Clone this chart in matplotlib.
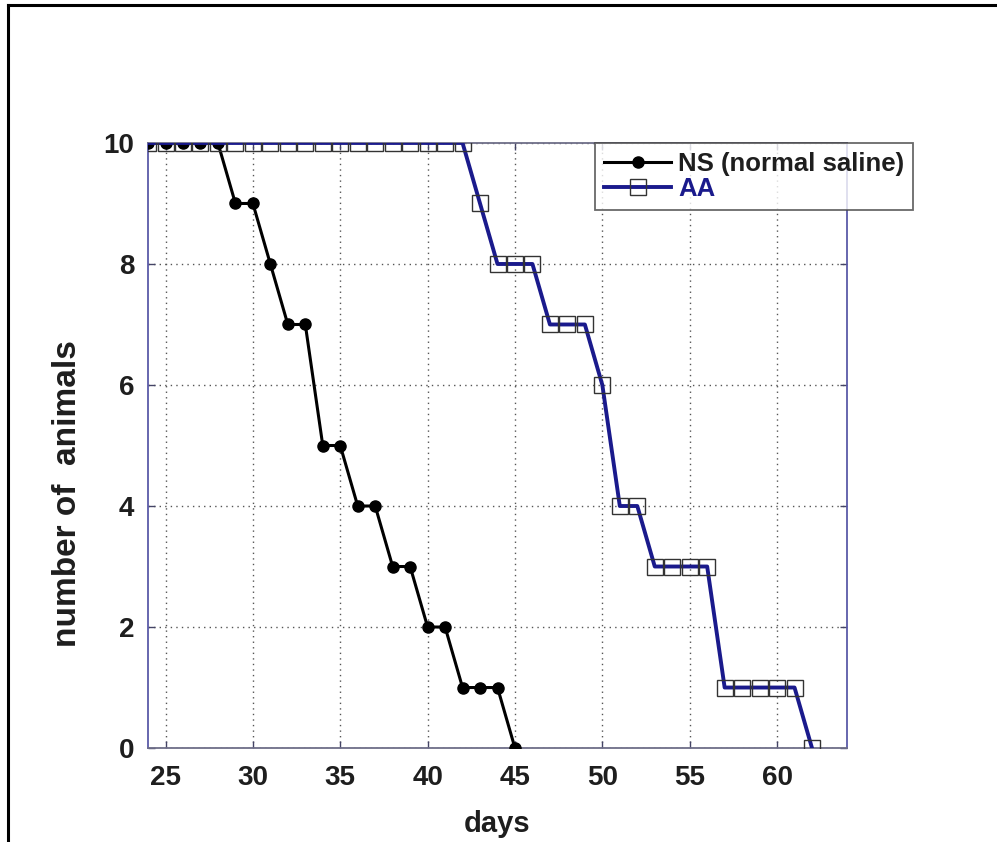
import matplotlib
matplotlib.use("Agg")
import matplotlib.pyplot as plt
from matplotlib.lines import Line2D

# survival data
days_ns = [24, 25, 26, 27, 28, 29, 30, 31, 32, 33, 34, 35, 36, 37, 38, 39, 40, 41, 42, 43, 44, 45]
ns_counts = [10, 10, 10, 10, 10, 9, 9, 8, 7, 7, 5, 5, 4, 4, 3, 3, 2, 2, 1, 1, 1, 0]

days_aa = list(range(24, 63))
aa_counts = [10] * 19 + [9, 8, 8, 8, 7, 7, 7, 6, 4, 4, 3, 3, 3, 3, 1, 1, 1, 1, 1, 0]

xticks = [25, 30, 35, 40, 45, 50, 55, 60]
yticks = [0, 2, 4, 6, 8, 10]

plt.rcParams['font.family'] = ['Liberation Sans', 'DejaVu Sans']
plt.rcParams['font.weight'] = 'bold'

fig = plt.figure(figsize=(9.97, 8.42), dpi=100)
ax = fig.add_axes([0.1485, 0.1116, 0.701, 0.7186])

ax.plot(days_ns, ns_counts, color='black', lw=2.2, marker='o', markersize=8,
        markerfacecolor='black', label='NS (normal saline)', zorder=3)
ax.plot(days_aa, aa_counts, color='#1a1a8c', lw=2.8, marker='s', markersize=11,
        markerfacecolor='none', markeredgecolor='#333333', markeredgewidth=1.0,
        label='AA', zorder=4)

ax.set_xlim(24, 64)
ax.set_ylim(0, 10)
ax.set_xticks(xticks)
ax.set_yticks(yticks)
ax.tick_params(labelsize=20, direction='in', length=5, width=1, color='#444466',
               top=True, right=True)
ax.tick_params(axis='x', pad=12)
ax.tick_params(axis='y', pad=10)
for lab in ax.get_xticklabels() + ax.get_yticklabels():
    lab.set_fontweight('bold')
    lab.set_color('#1e1e1e')

ax.grid(True, linestyle=(0, (1, 3)), color='#555555', lw=1)
for s in ax.spines.values():
    s.set_color('#5a5aa8')
    s.set_linewidth(1.3)
ax.spines['bottom'].set_color('#6e6e88')
ax.spines['top'].set_color('#6e6e88')

ax.set_xlabel('days', fontsize=21, fontweight='bold', labelpad=14, color='#1e1e1e')
ax.set_ylabel('number of  animals', fontsize=24, fontweight='bold', labelpad=13, color='#1e1e1e')
ax.yaxis.set_label_coords(-0.093, 0.42)

leg = ax.legend(loc='upper right', bbox_to_anchor=(0.916, 0.830), bbox_transform=fig.transFigure,
                fontsize=18.5, frameon=True, fancybox=False, borderpad=0.35,
                handlelength=2.6, handletextpad=0.27, labelspacing=0.05, borderaxespad=0)
leg.get_frame().set_edgecolor('#444444')
leg.get_frame().set_linewidth(1.3)
for t, c in zip(leg.get_texts(), ['#1e1e1e', '#1a1a8c']):
    t.set_color(c)
    t.set_fontweight('bold')

# outer frame (left and top edges only)
fig.add_artist(Line2D([0.008, 0.008], [0, 0.994], color='black', lw=2.2, transform=fig.transFigure))
fig.add_artist(Line2D([0.008, 1.0], [0.994, 0.994], color='black', lw=2.2, transform=fig.transFigure))

fig.savefig('out.png', dpi=100)
